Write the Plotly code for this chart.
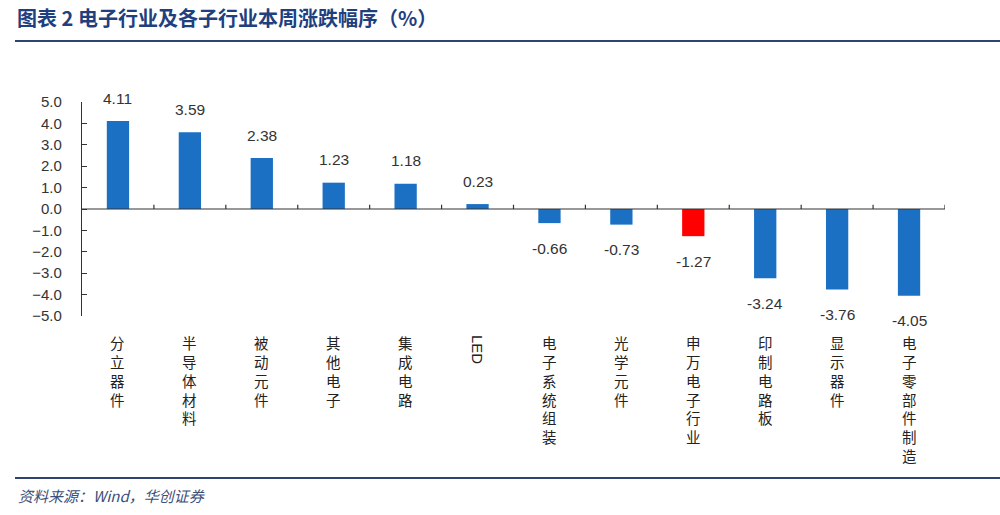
import plotly.graph_objects as go

categories = ["分立器件", "半导体材料", "被动元件", "其他电子", "集成电路", "LED",
              "电子系统组装", "光学元件", "申万电子行业", "印制电路板", "显示器件", "电子零部件制造"]
values = [4.11, 3.59, 2.38, 1.23, 1.18, 0.23, -0.66, -0.73, -1.27, -3.24, -3.76, -4.05]
highlight = "申万电子行业"
y_ticks = [5, 4, 3, 2, 1, 0, -1, -2, -3, -4, -5]

BLUE = "#1B70C4"
RED = "#FF0000"
NUM_FONT = "Liberation Sans, Arial, sans-serif"
CJK_FONT = "Noto Sans CJK SC, sans-serif"

x_idx = list(range(len(categories)))
colors = [RED if c == highlight else BLUE for c in categories]

fig = go.Figure()
fig.add_trace(go.Bar(x=x_idx, y=values, marker=dict(color=colors, line=dict(width=0)),
                     width=0.31, hoverinfo="skip"))

annotations = []
# value labels
for i, v in enumerate(values):
    annotations.append(dict(x=i, y=v, xref="x", yref="y", text=f"{v:.2f}", showarrow=False,
                            yshift=23 if v >= 0 else -25,
                            font=dict(family=NUM_FONT, size=15.5, color="#333333")))
# category labels (vertical stacked characters)
for i, c in enumerate(categories):
    if c.isascii():
        annotations.append(dict(x=i, y=0, xref="x", yref="paper", text=c, textangle=90,
                                showarrow=False, yanchor="top", yshift=-17,
                                font=dict(family=NUM_FONT, size=15, color="#222222")))
    else:
        annotations.append(dict(x=i, y=0, xref="x", yref="paper", text="<br>".join(c),
                                showarrow=False, yanchor="top", yshift=-14,
                                font=dict(family=CJK_FONT, size=14.5, color="#222222")))
# title and source
annotations.append(dict(xref="paper", yref="paper", x=-67/863, y=1 + (102 - 18) / 214,
                        xanchor="left", yanchor="middle", showarrow=False,
                        text="<b>图表 2 电子行业及各子行业本周涨跌幅序（%）</b>",
                        font=dict(family=CJK_FONT, size=20, color="#1F3F7F")))
annotations.append(dict(xref="paper", yref="paper", x=-66/863, y=-(495 - 316) / 214,
                        xanchor="left", yanchor="middle", showarrow=False,
                        text="<i>资料来源：Wind，华创证券</i>",
                        font=dict(family=CJK_FONT, size=15, color="#3A4F7A")))

shapes = []
# zero line
shapes.append(dict(type="line", xref="paper", yref="y", x0=0, x1=1, y0=0, y1=0,
                   line=dict(color="#333333", width=1.2)))
# category boundary ticks on the zero line
for i in range(len(categories)):
    shapes.append(dict(type="line", xref="x", yref="y", x0=i + 0.5, x1=i + 0.5, y0=0, y1=0.2,
                       line=dict(color="#333333", width=1.2)))
# header and footer rules
shapes.append(dict(type="line", xref="paper", yref="paper", x0=-67/863, x1=1 + 55/863,
                   y0=1 + (102 - 41) / 214, y1=1 + (102 - 41) / 214,
                   line=dict(color="#2D4470", width=2)))
shapes.append(dict(type="line", xref="paper", yref="paper", x0=-67/863, x1=1 + 55/863,
                   y0=-(478 - 316) / 214, y1=-(478 - 316) / 214,
                   line=dict(color="#2D4470", width=2)))

fig.update_layout(
    width=1000, height=515,
    margin=dict(l=82, r=55, t=102, b=199, autoexpand=False),
    paper_bgcolor="white", plot_bgcolor="white",
    showlegend=False,
    annotations=annotations, shapes=shapes,
    xaxis=dict(range=[-0.5, len(categories) - 0.5], showticklabels=False, showgrid=False,
               zeroline=False, showline=False, ticks="", automargin=False),
    yaxis=dict(range=[-5, 5], tickvals=y_ticks, tickformat=".1f", showgrid=False,
               zeroline=False, showline=True, linecolor="#333333", linewidth=1.2,
               ticks="inside", ticklen=5, tickcolor="#333333", ticklabelstandoff=16,
               automargin=False,
               tickfont=dict(family=NUM_FONT, size=15, color="#333333")),
)

fig.write_html("out.html", config={"displayModeBar": False},
               post_script="document.body.style.margin='0';")
